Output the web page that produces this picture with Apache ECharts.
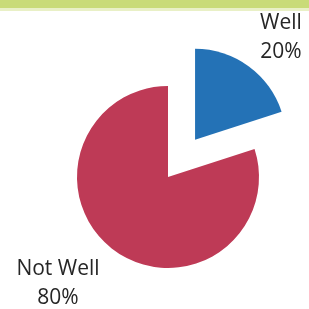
<!DOCTYPE html>
<html>
<head>
<meta charset="utf-8">
<script src="https://cdn.jsdelivr.net/npm/echarts@6/dist/echarts.min.js"></script>
<style>
  html, body { margin: 0; padding: 0; background: #fff; }
  #chart { width: 309px; height: 309px; }
</style>
</head>
<body>
<div id="chart"></div>
<script>
const categories = ['Well', 'Not Well'];
const values = [20, 80];
const colors = ['#2472b6', '#be3a56'];

// where each label block is centred
const labelSpots = [[281, 38], [58, 284]];

const total = values.reduce((a, c) => a + c, 0);
const labelTexts = categories.map((name, i) => ({
  type: 'text',
  x: labelSpots[i][0],
  y: labelSpots[i][1],
  style: {
    text: name + '\n' + Math.round(values[i] / total * 100) + '%',
    fontFamily: 'Open Sans',
    fontSize: 21,
    lineHeight: 29,
    fill: '#262626',
    align: 'center',
    verticalAlign: 'middle'
  }
}));

const chart = echarts.init(document.getElementById('chart'));
chart.setOption({
  animation: false,
  graphic: [
    {
      type: 'rect',
      shape: { x: 0, y: 0, width: 309, height: 8 },
      style: { fill: '#c9db78' }
    },
    {
      type: 'rect',
      shape: { x: 0, y: 8, width: 309, height: 3 },
      style: { fill: '#e9f0c6' }
    },
    ...labelTexts
  ],
  series: [{
    type: 'pie',
    center: [168, 177],
    radius: [0, 91],
    startAngle: 90,
    selectedMode: 'single',
    selectedOffset: 46,
    data: categories.map((name, i) => ({
      name,
      value: values[i],
      selected: i === 0,
      itemStyle: { color: colors[i] }
    })),
    label: { show: false },
    labelLine: { show: false },
    emphasis: { disabled: true }
  }]
});
</script>
</body>
</html>
